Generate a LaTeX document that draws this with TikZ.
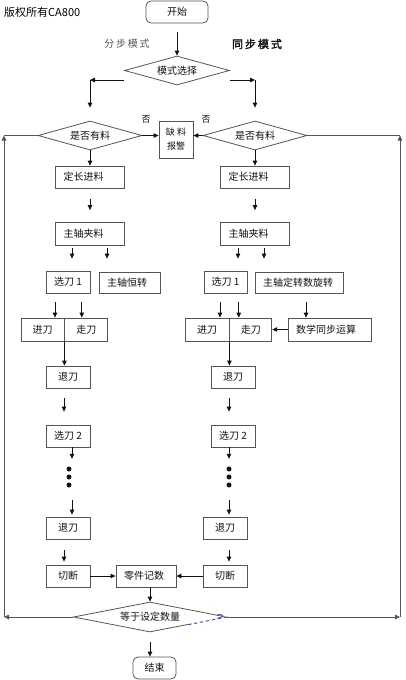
\documentclass[tikz,border=0pt]{standalone}
\usepackage{fontspec}
\setmainfont{Noto Sans CJK SC}
\newfontfamily\cjkwide[LetterSpace=18]{Noto Sans CJK SC}
\newfontfamily\cjkwidebold[LetterSpace=18,FakeBold=2]{Noto Sans CJK SC}
\usetikzlibrary{arrows.meta,shapes.geometric,positioning,calc}
\definecolor{edge}{HTML}{555555}
\definecolor{ink}{HTML}{111111}
\definecolor{selblue}{HTML}{3A3F9A}
\tikzset{
  node_box/.style={draw=edge,line width=0.8pt,minimum height=22pt,inner xsep=8pt,inner ysep=0pt,
    align=left,font=\fontsize{10}{12}\selectfont,text=ink},
  node_small/.style={draw=edge,line width=0.8pt,minimum height=22pt,minimum width=44pt,inner xsep=2pt,
    inner ysep=0pt,align=center,font=\fontsize{10}{12}\selectfont,text=ink},
  node_round/.style={draw=edge,line width=0.8pt,rounded corners=5pt,minimum height=22pt,
    font=\fontsize{10}{12}\selectfont,text=ink},
  node_dia/.style={diamond,draw=edge,line width=0.8pt,aspect=3.6,inner sep=0pt,
    font=\fontsize{10}{12}\selectfont,text=ink},
  node_lbl/.style={inner sep=0pt,font=\fontsize{9}{10}\selectfont,text=ink},
  arr/.style={-{Triangle[length=5pt,width=4.5pt]},draw=ink,line width=0.8pt},
  loop_line/.style={draw=edge,line width=0.9pt},
}
\begin{document}
\begin{tikzpicture}[x=1pt,y=-1pt]
    \useasboundingbox (0,0) rectangle (405,680);
    \node[anchor=west,inner sep=0pt,font=\fontsize{11}{12}\selectfont] (copy) at (4,12) {版权所有CA800};
    \node[node_round,minimum width=62pt] (start) at (177,12) {开始};
    \node[inner sep=0pt,text=edge,font={\cjkwide\fontsize{10}{12}\selectfont}] (stepmode) at (127,44) {分步模式};
    \node[inner sep=0pt,text=ink,font={\cjkwidebold\fontsize{11}{12}\selectfont}] (syncmode) at (257,44) {同步模式};
    \node[node_dia,minimum width=105pt,minimum height=29pt] (sel) at (177,70.5) {模式选择};

    \node[node_dia,minimum width=104pt,minimum height=29pt] (Ldia) at (90,135.5) {是否有料};
    \node[node_dia,minimum width=104pt,minimum height=29pt] (Rdia) at (255,135.5) {是否有料};
    \node[node_small,inner xsep=0pt,minimum width=34pt,minimum height=37pt,
      font=\fontsize{9}{14}\selectfont] (alarm) at (176,139.5) {缺\ 料\\报警};
    \node[node_lbl] (noL) at (146,119) {否};
    \node[node_lbl] (noR) at (206,119) {否};

    % left column (step mode)
    \node[node_box,text width=53pt] (L1) at (90,177) {定长进料};
    \node[node_box,text width=53pt,minimum height=23pt] (L2) at (90,234) {主轴夹料};
    \node[node_small] (L3) at (68,282) {选刀 1};
    \node[node_box,text width=45pt,minimum height=21pt] (L4) at (129.5,282.5) {主轴恒转};
    \node[node_small,minimum width=43pt,minimum height=23pt] (L5a) at (42.5,329.5) {进刀};
    \node[node_small,minimum width=43pt,minimum height=23pt,right=0pt of L5a] (L5b) {走刀};
    \node[node_small] (L6) at (68,377) {退刀};
    \node[node_small] (L7) at (68,436) {选刀 2};
    \node[minimum width=6pt,minimum height=24pt,inner sep=0pt] (Ldots) at (69,477) {};
    \node[node_small] (L8) at (68,528) {退刀};
    \node[node_small] (L9) at (68,576) {切断};

    % right column (sync mode)
    \node[node_box,text width=53pt] (R1) at (255,177) {定长进料};
    \node[node_box,text width=53pt,minimum height=23pt] (R2) at (255,234) {主轴夹料};
    \node[node_small,minimum width=43pt] (R3) at (225.5,282) {选刀 1};
    \node[node_box,text width=72pt,minimum height=21pt] (R4) at (299,282.5) {主轴定转数旋转};
    \node[node_small,minimum height=23pt] (R5a) at (207,329.5) {进刀};
    \node[node_small,minimum width=42pt,minimum height=23pt,right=0pt of R5a] (R5b) {走刀};
    \node[node_box,text width=67pt,minimum height=23pt] (R6) at (329.5,329.5) {数学同步运算};
    \node[node_small] (R7) at (233,377) {退刀};
    \node[node_small] (R8) at (233,436) {选刀 2};
    \node[minimum width=6pt,minimum height=24pt,inner sep=0pt] (Rdots) at (229,477) {};
    \node[node_small] (R9) at (225,528) {退刀};
    \node[node_small] (R10) at (225,576) {切断};

    \node[node_box,text width=44pt] (count) at (146,576) {零件记数};
    \node[node_dia,minimum width=153pt,minimum height=30pt] (fin) at (150,617) {等于设定数量};
    \node[node_round,minimum width=43pt] (endn) at (154.5,668) {结束};

    \foreach \d in {-8,0,8} {
      \fill[ink] ([yshift=\d pt]Ldots.center) circle (2.5pt);
      \fill[ink] ([yshift=\d pt]Rdots.center) circle (2.5pt);
    }

    % mode select
    \draw[arr,shorten <=9pt] (start) -- (sel);
    \coordinate (selL) at ([yshift=-9.5pt]sel.west);
    \coordinate (selR) at ([yshift=-9.5pt]sel.east);
    \coordinate (turnL) at (selL -| Ldia.north);
    \coordinate (turnR) at (selR -| Rdia.north);
    \draw[arr] (selL) -- (turnL);
    \draw[arr,shorten >=13pt] (turnL) -- (Ldia.north);
    \draw[arr] (selR) -- (turnR);
    \draw[arr,shorten >=13pt] (turnR) -- (Rdia.north);
    \draw[arr] (Ldia.east) -- (Ldia.east -| alarm.west);
    \draw[arr] (Rdia.west) -- (Rdia.west -| alarm.east);

    % left chain
    \draw[arr] (Ldia) -- (L1);
    \draw[arr,shorten <=11pt,shorten >=12pt] (L1) -- (L2);
    \draw[arr,shorten <=2pt,shorten >=12pt] ([xshift=4pt]L3.north |- L2.south) -- ([xshift=4pt]L3.north);
    \draw[arr,shorten <=2pt,shorten >=13pt] ([xshift=-22.5pt]L4.north |- L2.south) -- ([xshift=-22.5pt]L4.north);
    \draw[arr,shorten <=9pt] ([xshift=12.5pt]L5a.north |- L3.south) -- ([xshift=12.5pt]L5a.north);
    \draw[arr,shorten <=9pt] ([xshift=-4.5pt]L5b.north |- L3.south) -- ([xshift=-4.5pt]L5b.north);
    \draw[arr] (L5a.south east) -- (L5a.south east |- L6.north);
    \draw[arr,shorten <=10pt,shorten >=13pt] ([xshift=-4pt]L6.south) -- ([xshift=-4pt]L6.south |- L7.north);
    \draw[arr,shorten >=6pt] ([xshift=4pt]L7.south) -- ([xshift=4pt]L7.south |- Ldots.north);
    \draw[arr,shorten <=11pt,shorten >=2pt] ([xshift=3pt]Ldots.south) -- ([xshift=3pt]Ldots.south |- L8.north);
    \draw[arr,shorten <=11pt,shorten >=3pt] ([xshift=-4pt]L8.south) -- ([xshift=-4pt]L8.south |- L9.north);

    % right chain
    \draw[arr] (Rdia) -- (R1);
    \draw[arr,shorten <=11pt,shorten >=12pt] (R1) -- (R2);
    \draw[arr,shorten <=2pt,shorten >=12pt] ([xshift=12.5pt]R3.north |- R2.south) -- ([xshift=12.5pt]R3.north);
    \draw[arr,shorten <=2pt,shorten >=13pt] ([xshift=-35pt]R4.north |- R2.south) -- ([xshift=-35pt]R4.north);
    \draw[arr,shorten <=9pt] ([xshift=13pt]R5a.north |- R3.south) -- ([xshift=13pt]R5a.north);
    \draw[arr,shorten <=9pt] ([xshift=-12pt]R5b.north |- R3.south) -- ([xshift=-12pt]R5b.north);
    \draw[arr,shorten <=9pt] ([xshift=-23.5pt]R6.north |- R4.south) -- ([xshift=-23.5pt]R6.north);
    \draw[arr] (R6.west) -- (R5b.east);
    \draw[arr] (R5a.south east) -- (R5a.south east |- R7.north);
    \draw[arr,shorten <=10pt,shorten >=13pt] ([xshift=-4pt]R7.south) -- ([xshift=-4pt]R7.south |- R8.north);
    \draw[arr,shorten >=6pt] ([xshift=-4pt]R8.south) -- ([xshift=-4pt]R8.south |- Rdots.north);
    \draw[arr,shorten <=11pt,shorten >=2pt] (Rdots.south) -- (Rdots.south |- R9.north);
    \draw[arr,shorten <=11pt,shorten >=3pt] ([xshift=4pt]R9.south) -- ([xshift=4pt]R9.south |- R10.north);

    % count and end
    \draw[arr] (L9) -- (count);
    \draw[arr] (R10) -- (count);
    \draw[arr] (count.south -| fin.north) -- (fin.north);
    \draw[arr,shorten <=10pt] (fin.south) -- (fin.south |- endn.north);

    % loops back
    \coordinate (loopLB) at (fin.west -| 4,0);
    \coordinate (loopLT) at (Ldia.west -| 4,0);
    \coordinate (loopRB) at (fin.east -| 400,0);
    \coordinate (loopRT) at (Rdia.east -| 400,0);
    \draw[arr,draw=edge] (fin.west) -- (loopLB);
    \draw[arr,draw=edge] (loopLB) -- (loopLT);
    \draw[loop_line] (loopLT) -- (Ldia.west);
    \draw[arr,draw=edge] (fin.east) -- (loopRB);
    \draw[arr,draw=edge] (loopRB) -- (loopRT);
    \draw[loop_line] (loopRT) -- (Rdia.east);

    % blue selection mark
    \coordinate (blueA) at ($(fin.south)!0.5!(fin.east)$);
    \draw[white,line width=1.4pt] (blueA) -- ([xshift=-1pt]fin.east);
    \draw[selblue,dashed,line width=0.8pt] (blueA) -- (fin.east);
    \draw[selblue,line width=0.7pt] ([xshift=-10pt,yshift=2pt]fin.east) .. controls ([xshift=-2pt,yshift=4pt]fin.east) and ([xshift=-2pt,yshift=-1pt]fin.east) .. ([xshift=-10pt,yshift=-1pt]fin.east);
  \end{tikzpicture}
\end{document}
